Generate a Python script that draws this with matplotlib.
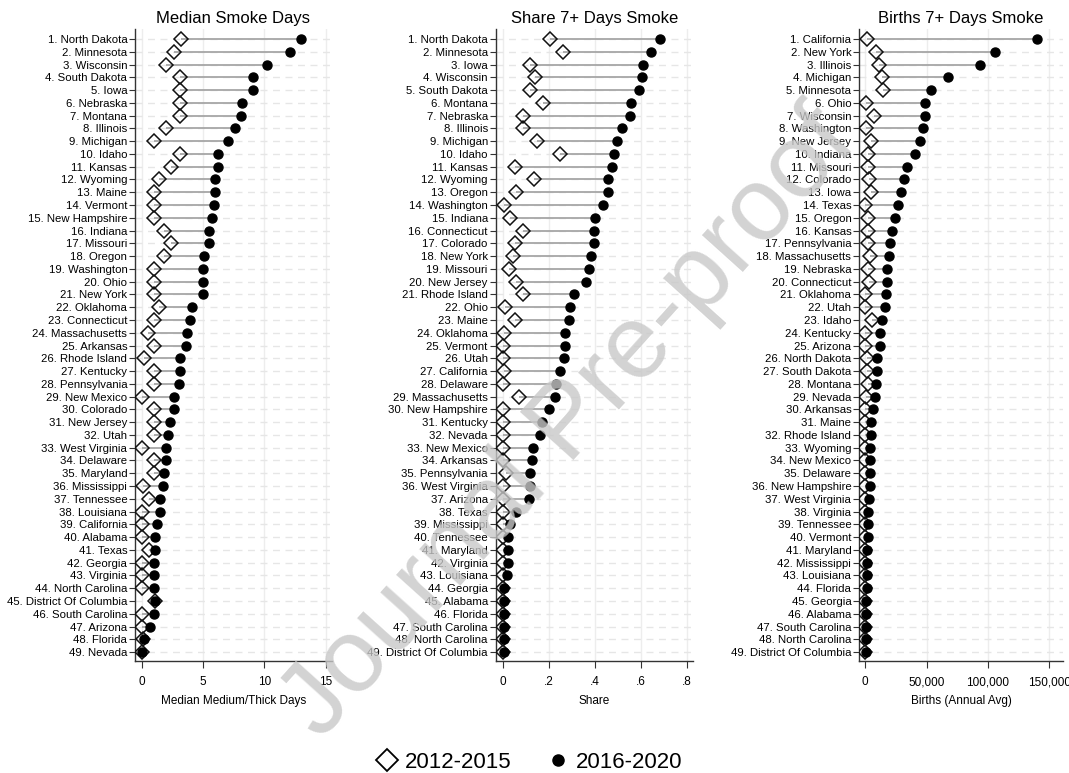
import numpy as np
import matplotlib
matplotlib.use("Agg")
import matplotlib.pyplot as plt
from matplotlib.lines import Line2D
from matplotlib.ticker import FuncFormatter

plt.rcParams['font.family'] = ['Liberation Sans', 'DejaVu Sans']

# ---------------------------
# data
# ---------------------------
states_days = ["North Dakota", "Minnesota", "Wisconsin", "South Dakota", "Iowa", "Nebraska",
               "Montana", "Illinois", "Michigan", "Idaho", "Kansas", "Wyoming", "Maine",
               "Vermont", "New Hampshire", "Indiana", "Missouri", "Oregon", "Washington",
               "Ohio", "New York", "Oklahoma", "Connecticut", "Massachusetts", "Arkansas",
               "Rhode Island", "Kentucky", "Pennsylvania", "New Mexico", "Colorado",
               "New Jersey", "Utah", "West Virginia", "Delaware", "Maryland", "Mississippi",
               "Tennessee", "Louisiana", "California", "Alabama", "Texas", "Georgia",
               "Virginia", "North Carolina", "District Of Columbia", "South Carolina",
               "Arizona", "Florida", "Nevada"]
days_early = [3.2, 2.6, 2.0, 3.1, 3.1, 3.1, 3.1, 2.0, 1.0, 3.1, 2.4, 1.4, 1.0, 1.0, 1.0,
              1.8, 2.4, 1.8, 1.0, 1.0, 1.0, 1.4, 1.0, 0.5, 1.0, 0.2, 1.0, 1.0, 0.05, 1.0,
              1.0, 1.0, 0.05, 1.0, 1.0, 0.1, 0.6, 0.0, 0.0, 0.0, 0.6, 0.0, 0.0, 0.0, 1.05,
              0.0, 0.0, 0.1, 0.0]
days_late = [13.0, 12.1, 10.2, 9.1, 9.1, 8.2, 8.1, 7.6, 7.0, 6.2, 6.2, 6.0, 6.0, 5.9, 5.7,
             5.5, 5.5, 5.1, 5.0, 5.0, 5.0, 4.1, 3.9, 3.7, 3.6, 3.1, 3.1, 3.0, 2.6, 2.6,
             2.3, 2.1, 2.0, 2.0, 1.8, 1.7, 1.5, 1.5, 1.25, 1.1, 1.05, 1.0, 1.0, 1.0, 1.05,
             1.0, 0.7, 0.2, 0.0]

states_share = ["North Dakota", "Minnesota", "Iowa", "Wisconsin", "South Dakota", "Montana",
                "Nebraska", "Illinois", "Michigan", "Idaho", "Kansas", "Wyoming", "Oregon",
                "Washington", "Indiana", "Connecticut", "Colorado", "New York", "Missouri",
                "New Jersey", "Rhode Island", "Ohio", "Maine", "Oklahoma", "Vermont", "Utah",
                "California", "Delaware", "Massachusetts", "New Hampshire", "Kentucky",
                "Nevada", "New Mexico", "Arkansas", "Pennsylvania", "West Virginia",
                "Arizona", "Texas", "Mississippi", "Tennessee", "Maryland", "Virginia",
                "Louisiana", "Georgia", "Alabama", "Florida", "South Carolina",
                "North Carolina", "District Of Columbia"]
share_early = [0.204, 0.262, 0.117, 0.138, 0.117, 0.175, 0.088, 0.088, 0.149, 0.248, 0.052,
               0.135, 0.055, 0.003, 0.032, 0.086, 0.054, 0.046, 0.025, 0.058, 0.087, 0.009,
               0.054, 0.003, 0.0, 0.0, 0.006, 0.0, 0.068, 0.0, 0.0, 0.0, 0.0, 0.0, 0.013,
               0.0, 0.0, 0.0, 0.0, 0.0, 0.0, 0.0, 0.0, 0.0, 0.0, 0.0, 0.0, 0.0, 0.0]
share_late = [0.683, 0.642, 0.61, 0.604, 0.59, 0.557, 0.552, 0.519, 0.494, 0.484, 0.474,
              0.458, 0.457, 0.435, 0.401, 0.396, 0.396, 0.384, 0.374, 0.359, 0.307, 0.291,
              0.286, 0.272, 0.268, 0.264, 0.249, 0.23, 0.226, 0.201, 0.172, 0.161, 0.129,
              0.126, 0.12, 0.116, 0.113, 0.059, 0.033, 0.023, 0.022, 0.022, 0.02, 0.005,
              0.005, 0.005, 0.005, 0.004, 0.003]

states_births = ["California", "New York", "Illinois", "Michigan", "Minnesota", "Ohio",
                 "Wisconsin", "Washington", "New Jersey", "Indiana", "Missouri", "Colorado",
                 "Iowa", "Texas", "Oregon", "Kansas", "Pennsylvania", "Massachusetts",
                 "Nebraska", "Connecticut", "Oklahoma", "Utah", "Idaho", "Kentucky",
                 "Arizona", "North Dakota", "South Dakota", "Montana", "Nevada", "Arkansas",
                 "Maine", "Rhode Island", "Wyoming", "New Mexico", "Delaware",
                 "New Hampshire", "West Virginia", "Virginia", "Tennessee", "Vermont",
                 "Maryland", "Mississippi", "Louisiana", "Florida", "Georgia", "Alabama",
                 "South Carolina", "North Carolina", "District Of Columbia"]
births_early = [2000, 8900, 11600, 13500, 14900, 1000, 7300, 500, 5100, 2400, 2400, 3500,
                4600, 300, 2700, 2200, 2200, 4300, 2400, 3500, 300, 300, 5400, 300, 300,
                1900, 1900, 2400, 800, 0, 0, 200, 200, 200, 0, 0, 0, 0, 0, 0, 0, 0, 0, 0,
                0, 0, 0, 0, 0]
births_late = [139700, 106000, 93200, 67300, 54000, 48900, 48600, 46800, 44600, 40800,
               34000, 31600, 28900, 26800, 24600, 21600, 20300, 19700, 18100, 17600, 17300,
               15900, 13500, 11900, 11800, 10000, 9500, 8600, 7800, 6500, 5100, 4600, 4300,
               4300, 4100, 3800, 3200, 2700, 2700, 2400, 1900, 1900, 1900, 1200, 1100, 1100,
               1000, 1000, 900]

panels = [
    ("Median Smoke Days", "Median Medium/Thick Days", states_days, days_early, days_late,
     [0, 5, 10, 15], (-0.55, 15.5), lambda v, p: f"{v:g}"),
    ("Share 7+ Days Smoke", "Share", states_share, share_early, share_late,
     [0, 0.2, 0.4, 0.6, 0.8], (-0.032, 0.826),
     lambda v, p: "0" if v == 0 else f"{v:.1f}".lstrip("0")),
    ("Births 7+ Days Smoke", "Births (Annual Avg)", states_births, births_early, births_late,
     [0, 50000, 100000, 150000], (-4900, 161000), lambda v, p: f"{v:,.0f}"),
]

# ---------------------------
# figure
# ---------------------------
fig = plt.figure(figsize=(10.69, 7.73), dpi=100)
W, H = 1069, 773
lefts = [135, 495.5, 859]
rights = [332, 693, 1063]
top_px, bot_px = 29, 661

for (title, xlab, names, early, late, ticks, xlim, fmt), l, r in zip(panels, lefts, rights):
    ax = fig.add_axes([l / W, 1 - bot_px / H, (r - l) / W, (bot_px - top_px) / H])
    pos = np.arange(1, len(names) + 1)
    early = np.array(early)
    late = np.array(late)

    ax.hlines(pos, early, late, color='#a6a6a6', lw=1.3, zorder=2)
    ax.plot(early, pos, ls='none', marker='D', ms=7, mfc='none', mec='#111111', mew=1.1, zorder=3)
    ax.plot(late, pos, ls='none', marker='o', ms=6.5, color='black', zorder=4)

    ax.set_yticks(pos)
    ax.set_yticklabels([f"{i}. {n}" for i, n in zip(pos, names)])
    ax.set_ylim(49.7, 0.22)
    ax.set_xticks(ticks)
    ax.xaxis.set_major_formatter(FuncFormatter(fmt))
    ax.set_xlim(*xlim)

    ax.grid(axis='y', ls=(0, (5, 4)), color='#e6e6e6', lw=1)
    ax.grid(axis='x', color='#ededed', lw=1)
    ax.set_axisbelow(True)

    for s in ['top', 'right']:
        ax.spines[s].set_visible(False)
    for s in ['left', 'bottom']:
        ax.spines[s].set_color('#333333')
        ax.spines[s].set_linewidth(1)

    ax.tick_params(axis='y', length=4, width=0.8, labelsize=8.2, pad=1.5, color='#333333')
    ax.tick_params(axis='x', length=5, width=0.8, labelsize=8.5, pad=6, color='#333333')
    ax.set_title(title, fontsize=12, pad=4)
    ax.set_xlabel(xlab, fontsize=8.5, labelpad=5)

handles = [
    Line2D([], [], ls='none', marker='D', ms=11, mfc='none', mec='black', mew=1.3),
    Line2D([], [], ls='none', marker='o', ms=8, color='black'),
]
fig.legend(handles, ["2012-2015", "2016-2020"], loc='center', bbox_to_anchor=(0.495, 1 - 762 / H),
           ncol=2, frameon=False, fontsize=16, handletextpad=0.3, columnspacing=1.6,
           handlelength=1.0)

# watermark
fig.text(570 / W, 1 - 425 / H, "Journal Pre-proof", rotation=48, fontsize=75, color='#c8c8c8',
         alpha=0.8, ha='center', va='center', zorder=10)

fig.savefig("out.png", dpi=100)
